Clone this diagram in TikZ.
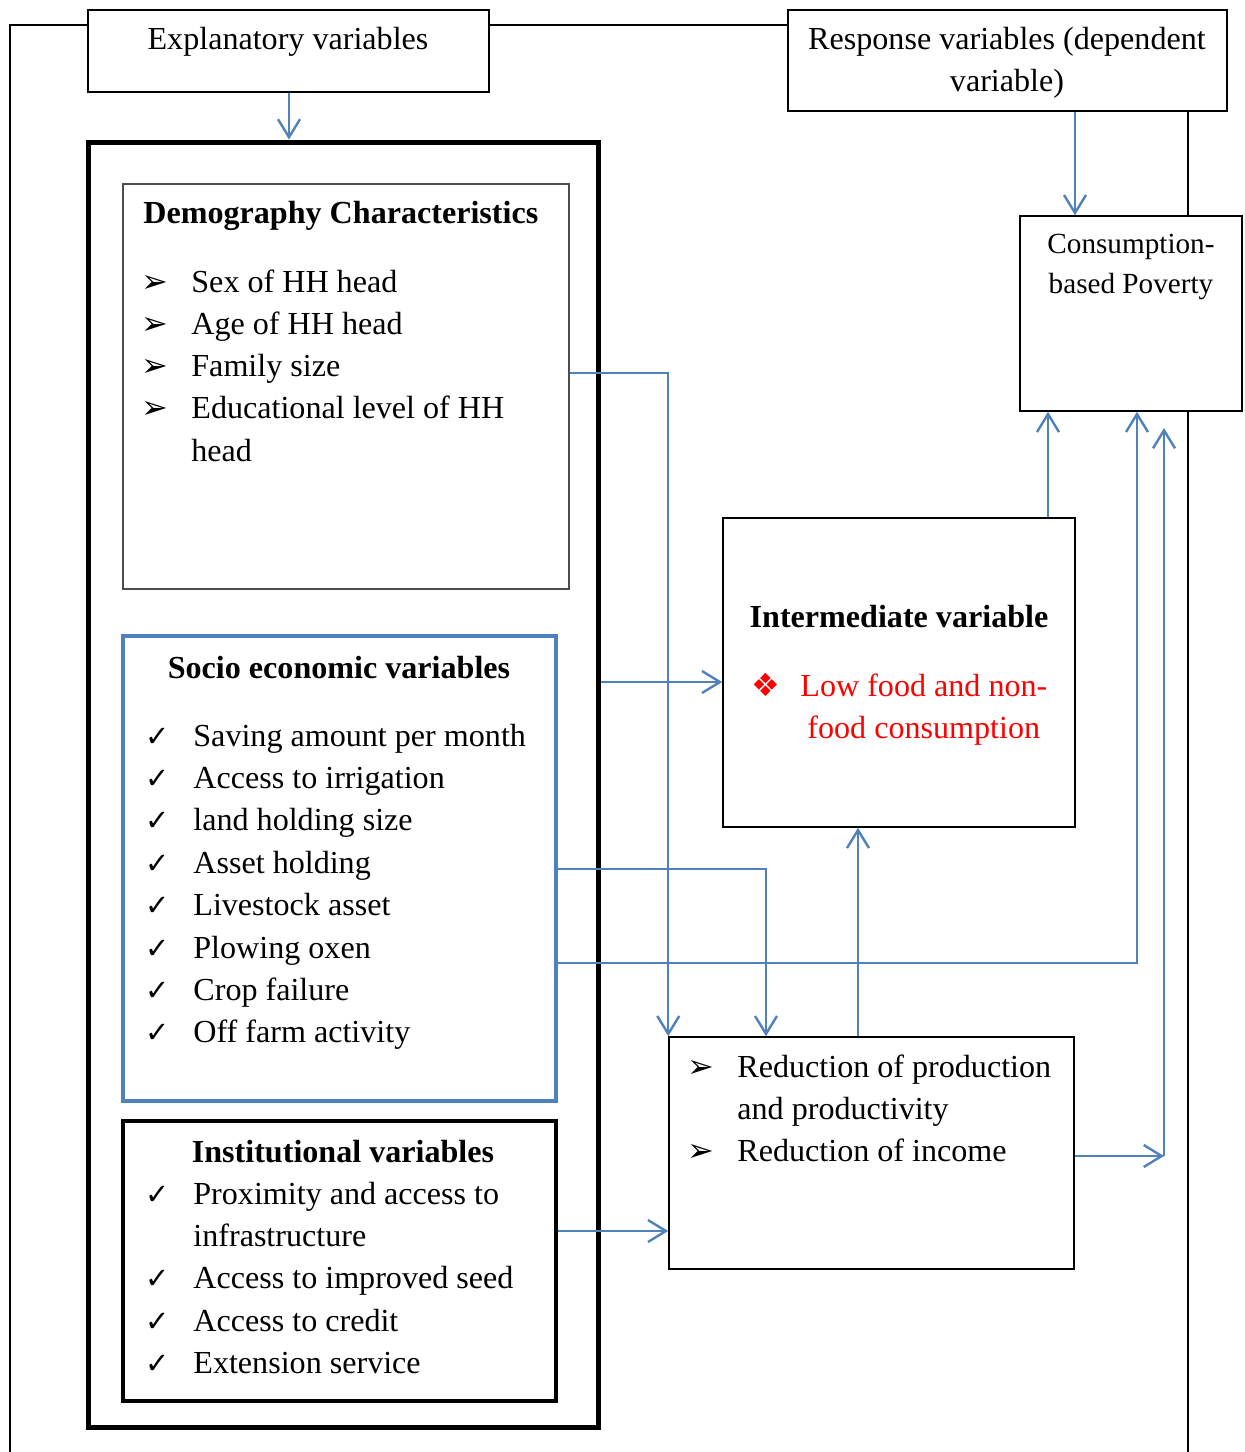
\documentclass[tikz,border=0pt]{standalone}
\usepackage{fontspec}
\setmainfont{Liberation Serif}
\newfontfamily\simboli{DejaVu Sans}
\usetikzlibrary{arrows.meta,fit}
\definecolor{blu}{HTML}{4F81BD}
\definecolor{rosso}{HTML}{FF0000}
\newcommand{\corpo}{\fontsize{16.05}{21}\selectfont}
\newcommand{\piccolo}{\fontsize{14.6}{20}\selectfont}
\tikzset{
  riquadro/.style={draw, line width=0.75pt, inner sep=0pt},
  freccia/.style={draw=blu, line width=1.2pt, -{Straight Barb[length=9pt,width=11pt]}},
  cornice/.style={line width=0.6pt},
  voce/.style={anchor=base west, inner sep=0pt, font=\corpo},
  titolo/.style={anchor=base, inner sep=0pt, font=\corpo\bfseries},
  piccola/.style={anchor=base, inner sep=0pt, font=\piccolo},
  punta/.style={anchor=base, inner sep=0pt, font=\simboli\fontsize{16}{16}\selectfont},
  spunta/.style={anchor=base, inner sep=0pt, font=\simboli\fontsize{14.5}{14.5}\selectfont}
}
\begin{document}
\begin{tikzpicture}[x=0.5pt,y=-0.5pt]
        \useasboundingbox (0,0) rectangle (1245,1452);
        %%%%%%%%%% Riquadri %%%%%%%%%%
        \node[riquadro, fit={(88,10) (489,92)}] (expl) {};
        \node[riquadro, fit={(788,10) (1227,111)}] (resp) {};
        \node[riquadro, line width=2.5pt, fit={(88,142) (598,1427)}] (grande) {};
        \node[riquadro, draw=black!70, fit={(123,184) (569,589)}] (demo) {};
        \node[riquadro, draw=blu, line width=2pt, fit={(123,636) (556,1101)}] (socio) {};
        \node[riquadro, line width=2pt, fit={(123,1121) (556,1401)}] (ist) {};
        \node[riquadro, fill=white, fit={(1020,216) (1242,411)}] (cons) {};
        \node[riquadro, fit={(723,518) (1075,827)}] (inter) {};
        \node[riquadro, fit={(669,1037) (1074,1269)}] (red) {};

        %%%%%%%%%% Cornice %%%%%%%%%%
        \coordinate (fa) at (10,25);
        \coordinate (fb) at (10,1452);
        \coordinate (fc) at (1188,1452);
        \draw[cornice] (expl.west |- fa) -- (fa) -- (fb);
        \draw[cornice] (expl.east |- fa) -- (resp.west |- fa);
        \draw[cornice] (resp.south -| fc) -- (cons.north -| fc);
        \draw[cornice] (cons.south -| fc) -- (fc);

        %%%%%%%%%% Testi %%%%%%%%%%
        \node[voce, anchor=base] (texpl) at (288,49) {Explanatory variables};
        \node[voce, anchor=base] (tresp1) at (1007,49) {Response variables (dependent};
        \node[voce, anchor=base] (tresp2) at (1007,91) {variable)};
        \node[piccola] (tcons1) at (1131,253) {Consumption-};
        \node[piccola] (tcons2) at (1131,293) {based Poverty};

        \node[titolo, anchor=base west] (tdemo) at (143,223) {Demography Characteristics};
        \foreach \voce [count=\i] in {Sex of HH head, Age of HH head, Family size, Educational level of HH} {
            \node[punta] (pd\i) at (155,{249.7+42.3*\i}) {➢};
            \node[voce] (d\i) at (191,{249.7+42.3*\i}) {\voce};
        }
        \node[voce] (d5) at (191,461) {head};

        \node[titolo] (tsocio) at (339,678) {Socio economic variables};
        \foreach \voce [count=\i] in {Saving amount per month, Access to irrigation, land holding size, Asset holding, Livestock asset, Plowing oxen, Crop failure, Off farm activity} {
            \node[spunta] (ps\i) at (158,{703.6+42.4*\i}) {✓};
            \node[voce] (s\i) at (193,{703.6+42.4*\i}) {\voce};
        }

        \node[titolo] (tist) at (343,1162) {Institutional variables};
        \foreach \voce/\y [count=\i] in {Proximity and access to/1204, Access to improved seed/1288, Access to credit/1331, Extension service/1373} {
            \node[spunta] (pi\i) at (158,\y) {✓};
            \node[voce] (i\i) at (193,\y) {\voce};
        }
        \node[voce] (i5) at (193,1246) {infrastructure};

        \node[titolo] (tinter) at (899,627) {Intermediate variable};
        \node[punta, text=rosso] (pr) at (766,696) {❖};
        \node[voce, text=rosso] (r1) at (800,696) {Low food and non-};
        \node[voce, text=rosso] (r2) at (807,738) {food consumption};

        \node[punta] (pe1) at (701,1077) {➢};
        \node[voce] (e1) at (737,1077) {Reduction of production};
        \node[voce] (e2) at (737,1119) {and productivity};
        \node[punta] (pe3) at (701,1161) {➢};
        \node[voce] (e3) at (737,1161) {Reduction of income};

        %%%%%%%%%% Frecce %%%%%%%%%%
        \coordinate (giro) at (1164,1156);
        \coordinate (cima) at (1164,428);
        \draw[freccia] (expl.south -| 289,0) -- (grande.north -| 289,0);
        \draw[freccia] (resp.south -| 1075,0) -- (cons.north -| 1075,0);
        \draw[freccia] (demo.east |- 0,373) -| (red.north west);
        \draw[freccia] (grande.east |- 0,682) -- (inter.west |- 0,682);
        \draw[freccia] (socio.east |- 0,869) -| (red.north -| 766,0);
        \draw[freccia] (socio.east |- 0,963) -| (cons.south -| 1137,0);
        \draw[freccia] (red.north -| 858,0) -- (inter.south -| 858,0);
        \draw[freccia] (inter.north -| 1048,0) -- (cons.south -| 1048,0);
        \draw[freccia] (red.east |- giro) -- (giro);
        \draw[freccia] (giro) -- (cima);
        \draw[freccia] (ist.east |- 0,1231) -- (red.west |- 0,1231);
    \end{tikzpicture}
\end{document}
